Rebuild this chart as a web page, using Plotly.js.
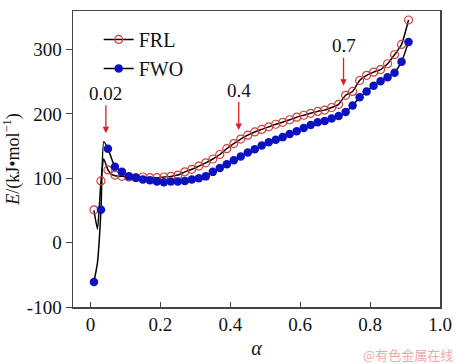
<!DOCTYPE html>
<html>
<head>
<meta charset="utf-8">
<script src="https://cdn.plot.ly/plotly-3.0.1.min.js"></script>
<style>html,body{margin:0;padding:0;background:#fff;}#chart{width:458px;height:364px;}</style>
</head>
<body>
<div id="chart"></div>
<script>
// Conversion degree (alpha) sampled by both methods
const alpha = [0.01,0.03,0.05,0.07,0.09,0.11,0.13,0.15,0.17,0.19,0.21,0.23,0.25,0.27,0.29,0.31,0.33,0.35,0.37,0.39,
  0.41,0.43,0.45,0.47,0.49,0.51,0.53,0.55,0.57,0.59,0.61,0.63,0.65,0.67,0.69,0.71,0.73,0.75,0.77,0.79,
  0.81,0.83,0.85,0.87,0.89,0.91];
// Activation energy E (kJ/mol), FRL (Friedman) and FWO methods
const frlE = [51,96,113,105,103,102,101,102,101,101,102,103,105,110,114,119,124,130,137,146,
  154,161,167,172,176,180,184,187,191,195,198,201,204,206,210,215,229,235,252,260,
  265,269,278,292,308,346];
const fwoE = [-61,51,146,118,110,103,101,98,97,95,94,95,95,96,98,100,103,110,116,122,
  128,134,140,145,151,156,160,164,169,173,178,183,187,189,193,197,203,213,226,235,
  244,251,257,264,281,312];
// Fitted curves (black lines), early spike region then the series
const frlFitAlphaHead = [0.01,0.02,0.03,0.038,0.05,0.06,0.07];
const frlFitHead = [50,21,95,130,113,106,104];
const fwoFitAlphaHead = [0.01,0.02,0.03,0.038,0.05,0.07];
const fwoFitHead = [-61,-31,50,157,146,118];
const legendNames = ['FRL','FWO'];
const tickVals = [0,0.2,0.4,0.6,0.8,1.0];
const tickText = ['0','0.2','0.4','0.6','0.8','1.0'];
const yTickVals = [-100,0,100,200,300];
const yTickText = ['-100','0','100','200','300'];
// Arrow annotations: label, alpha, tip E
const arrowLabels = ['0.02','0.4','0.7'];
const arrowAlpha = [0.044,0.424,0.724];
const arrowTipE = [170,175,244];

const red = '#d0403c', blue = '#0c12c0';
const serif = "Liberation Serif";

const frlFitX = frlFitAlphaHead.concat(alpha.slice(4));
const frlFitY = frlFitHead.concat(frlE.slice(4));
const fwoFitX = fwoFitAlphaHead.concat(alpha.slice(4));
const fwoFitY = fwoFitHead.concat(fwoE.slice(4));

const traces = [
  {x: frlFitX, y: frlFitY, mode:'lines', line:{color:'#000', width:1.5, shape:'spline', smoothing:0.5}, showlegend:false, hoverinfo:'skip'},
  {x: fwoFitX, y: fwoFitY, mode:'lines', line:{color:'#000', width:1.5, shape:'spline', smoothing:0.5}, showlegend:false, hoverinfo:'skip'},
  {x: alpha, y: frlE, mode:'markers', marker:{symbol:'circle-open', color:red, size:8, line:{width:1.2, color:red}}, showlegend:false},
  {x: alpha, y: fwoE, mode:'markers', marker:{symbol:'circle', color:blue, size:8.5}, showlegend:false},
  {x:[-1], y:[-1000], name: legendNames[0], mode:'lines+markers', line:{color:'#000', width:1.5}, marker:{symbol:'circle-open', color:red, size:8, line:{width:1.2,color:red}}},
  {x:[-1], y:[-1000], name: legendNames[1], mode:'lines+markers', line:{color:'#000', width:1.5}, marker:{symbol:'circle', color:blue, size:8.5}}
];

const annotations = arrowLabels.map((t,i)=>({
  x: arrowAlpha[i], y: arrowTipE[i], xref:'x', yref:'y', text: t,
  showarrow:true, arrowhead:2, arrowsize:1, arrowwidth:1.3, arrowcolor:'#e02020',
  ax:0, ay:-40, font:{family:serif, size:19, color:'#111'}
}));
annotations.push({
  text:'@有色金属在线', xref:'paper', yref:'paper', x:1.04, y:-0.16, xanchor:'right', yanchor:'middle',
  showarrow:false, font:{family:'Noto Sans CJK SC', size:13, color:'#f2a8a8'}
});

const layout = {
  width:458, height:364,
  margin:{l:73, r:18, t:11, b:57},
  paper_bgcolor:'#fff', plot_bgcolor:'#fff',
  font:{family:serif, color:'#111', size:19},
  showlegend:true,
  legend:{x:0.07, y:0.97, xanchor:'left', yanchor:'top', bgcolor:'rgba(0,0,0,0)', font:{size:20, family:serif}, tracegroupgap:0, itemwidth:30},
  xaxis:{range:[-0.05,1.0], tickvals:tickVals, ticktext:tickText, ticks:'inside', ticklen:5, tickcolor:'#444',
    showline:true, linecolor:'#444', linewidth:1.5, mirror:true, showgrid:false, zeroline:false,
    tickfont:{family:serif, size:19},
    title:{text:'<i>α</i>', font:{size:20, family:serif}, standoff:6}},
  yaxis:{range:[-100,360], tickvals:yTickVals, ticktext:yTickText, ticks:'outside', ticklen:6, tickcolor:'#444',
    showline:true, linecolor:'#444', linewidth:1.5, mirror:true, showgrid:false, zeroline:false,
    tickfont:{family:serif, size:19},
    title:{text:'<i>E</i>/(kJ•mol<sup>−1</sup>)', font:{size:18, family:serif}, standoff:4}},
  annotations: annotations
};

Plotly.newPlot('chart', traces, layout, {displayModeBar:false, staticPlot:true});
</script>
</body>
</html>
